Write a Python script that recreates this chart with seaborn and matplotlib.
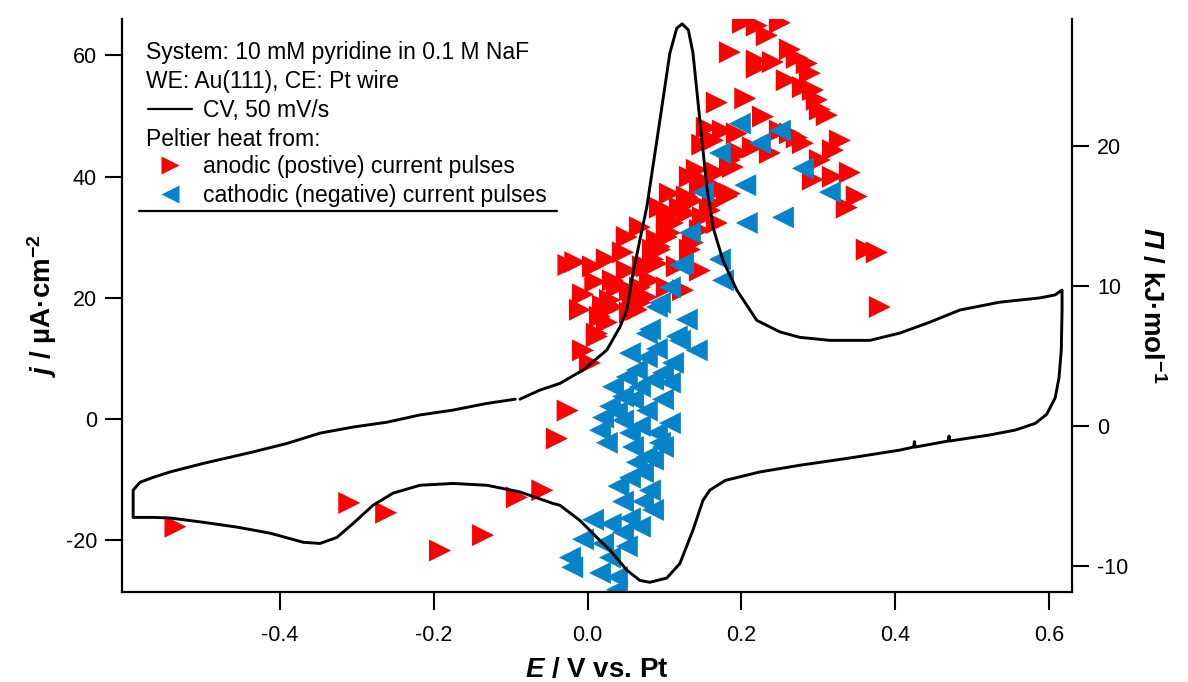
import numpy as np
import pandas as pd
import matplotlib
matplotlib.use("Agg")
import matplotlib.pyplot as plt
from matplotlib.lines import Line2D
import seaborn as sns

# ---------------- data ----------------
# CV trace (E / V vs. Pt, j / uA cm^-2), in acquisition order
cv_E = [-0.088, -0.062, -0.036, -0.006, 0.025, 0.042, 0.051, 0.059, 0.077, 0.094, 0.107,
        0.116, 0.123, 0.131, 0.137, 0.146, 0.155, 0.163, 0.176, 0.194, 0.220, 0.250,
        0.276, 0.315, 0.367, 0.406, 0.445, 0.484, 0.536, 0.588, 0.608, 0.617, 0.617,
        0.616, 0.613, 0.608, 0.597, 0.582, 0.556, 0.523, 0.471, 0.470, 0.469, 0.426,
        0.425, 0.424, 0.406, 0.341, 0.276, 0.224, 0.179, 0.159, 0.150, 0.137, 0.120,
        0.103, 0.081, 0.068, 0.051, 0.029, 0.012, -0.010, -0.036, -0.045, -0.088,
        -0.131, -0.175, -0.218, -0.253, -0.279, -0.305, -0.326, -0.348, -0.370,
        -0.413, -0.456, -0.500, -0.543, -0.565, -0.591, -0.591, -0.582, -0.565,
        -0.543, -0.500, -0.435, -0.391, -0.348, -0.305, -0.261, -0.218, -0.175,
        -0.131, -0.094]
cv_j = [3.3, 4.8, 5.9, 8.1, 11.4, 15.2, 18.0, 24.1, 35.0, 49.3, 60.4,
        64.5, 65.2, 64.2, 60.4, 49.3, 38.3, 31.7, 26.2, 21.3, 16.3, 14.4,
        13.5, 13.0, 13.0, 14.2, 16.0, 18.0, 19.3, 20.0, 20.5, 21.3, 18.0,
        11.4, 6.8, 3.5, 0.8, -0.7, -1.8, -2.6, -3.6, -2.8, -3.6, -4.6,
        -3.7, -4.6, -5.1, -6.4, -7.6, -8.7, -10.1, -11.7, -13.4, -18.3, -23.8,
        -26.2, -26.9, -26.6, -24.9, -21.6, -19.5, -16.7, -14.2, -13.9, -12.0,
        -10.9, -10.6, -10.9, -12.2, -14.2, -17.2, -19.5, -20.5, -20.3,
        -18.8, -17.8, -17.0, -16.3, -16.2, -16.2, -11.7, -10.4, -9.6,
        -8.7, -7.3, -5.4, -4.0, -2.3, -1.3, -0.5, 0.7, 1.5,
        2.6, 3.3]

# Peltier heat (E / V vs. Pt, Pi / kJ mol^-1) from anodic (positive) current pulses
anodic_E = [0.202, 0.220, 0.250, 0.233, 0.185, 0.220, 0.241, 0.263, 0.272, 0.285, 0.289,
            0.220, 0.259, 0.280, 0.293, 0.298, 0.302, 0.311, 0.168, 0.205, 0.228, 0.155,
            0.194, 0.149, 0.250, 0.272, 0.280, 0.328, 0.319, 0.302, 0.293, 0.319, 0.341,
            0.350, 0.337, 0.363, 0.376, 0.380, 0.185, 0.198, 0.215, 0.237, 0.263, 0.168,
            0.155, 0.142, 0.172, 0.133, 0.163, 0.176, 0.146, 0.137, 0.129, 0.111, 0.107,
            0.094, 0.107, 0.103, 0.094, 0.085, 0.077, 0.068, 0.090, 0.051, 0.068, 0.007,
            0.025, 0.033, 0.055, 0.046, 0.038, 0.020, 0.016, 0.012, 0.059, 0.064, 0.081,
            0.090, 0.094, 0.107, 0.103, 0.120, 0.129, 0.150, 0.163, 0.181, 0.168, 0.137,
            0.116, 0.103, 0.077, 0.055, 0.029, 0.072, 0.085, 0.051, -0.006, 0.003, 0.012,
            0.025, 0.033, 0.068, -0.025, -0.016, -0.010, 0.010, -0.006, 0.189, 0.185,
            0.159, 0.146, 0.133, 0.124, 0.146,
            -0.536, -0.310, -0.262, -0.192, -0.136, -0.092, -0.059, -0.040, -0.026]
anodic_P = [28.8, 28.6, 28.8, 27.9, 26.7, 26.1, 26.0, 26.9, 26.3, 25.9, 25.2,
            25.6, 24.7, 24.2, 24.0, 23.3, 22.6, 22.2, 23.1, 23.4, 22.1, 21.3,
            20.9, 20.1, 21.1, 20.6, 20.2, 20.4, 19.7, 19.0, 17.6, 17.8, 18.1,
            16.4, 15.6, 12.6, 12.4, 8.5, 19.0, 19.5, 19.9, 19.5, 20.9, 18.1,
            17.4, 18.3, 16.9, 17.8, 20.4, 21.1, 17.1, 16.1, 15.2, 14.5, 15.2,
            15.6, 16.6, 13.5, 12.6, 11.9, 11.4, 9.9, 13.3, 13.5, 14.2, 11.4,
            11.9, 10.4, 9.7, 12.4, 9.9, 8.6, 7.8, 6.6, 9.0, 8.3, 10.4,
            11.6, 12.8, 13.8, 14.9, 15.6, 16.4, 14.9, 15.9, 16.4, 14.5, 13.1,
            11.4, 9.9, 9.2, 8.1, 9.0, 11.4, 12.6, 11.1, 5.4, 4.5, 6.4,
            7.4, 8.5, 8.8, 11.5, 11.7, 8.3, 10.3, 9.4, 18.5, 16.6,
            15.4, 14.0, 12.6, 9.7, 11.1,
            -7.2, -5.5, -6.2, -8.9, -7.8, -5.1, -4.6, -0.9, 1.1]

# Peltier heat from cathodic (negative) current pulses
cathodic_E = [0.198, 0.250, 0.280, 0.315, 0.205, 0.150, 0.254, 0.207, 0.133, 0.172, 0.176,
              0.124, 0.172, 0.224, 0.120, 0.107, 0.094, 0.129, 0.081, 0.116, 0.090, 0.077,
              0.120, 0.142, 0.055, 0.077, 0.111, 0.098, 0.051, 0.033, 0.068, 0.107, 0.046,
              0.029, 0.059, 0.098, 0.077, 0.020, 0.046, 0.107, 0.016, 0.055, 0.090, 0.025,
              0.094, 0.098, 0.077, 0.064, 0.085, 0.055, 0.081, 0.046, 0.072, 0.007, 0.055,
              0.068, 0.046, -0.006, 0.020, 0.051, -0.023, 0.029, 0.016, 0.038, 0.038,
              0.064, 0.085, 0.038, 0.068, 0.090, 0.059, 0.072, 0.040, 0.085, 0.030, -0.020]
cathodic_P = [21.6, 21.1, 18.4, 16.7, 17.2, 16.7, 14.9, 14.5, 13.8, 11.9, 10.4,
              11.6, 19.5, 20.2, 11.5, 9.9, 8.8, 7.6, 6.9, 6.4, 8.5, 6.6,
              6.1, 5.4, 5.2, 4.9, 4.5, 3.8, 3.5, 2.8, 2.8, 3.1, 2.1,
              1.4, 1.9, 1.9, 1.1, 0.6, 0.4, 0.2, -0.3, -0.5, -0.5, -1.2,
              -1.2, -1.5, -2.2, -2.6, -2.4, -3.7, -4.6, -5.4, -5.4, -6.7, -6.6,
              -7.2, -7.6, -8.1, -8.4, -8.6, -9.4, -9.4, -10.5, -10.8, -11.7,
              4.0, 3.3, 1.0, 0.0, 5.5, -1.5, -3.3, -4.3, -6.0, -7.0, -10.1]

x_ticks = [-0.4, -0.2, 0.0, 0.2, 0.4, 0.6]
j_ticks = [-20, 0, 20, 40, 60]
P_ticks = [-10, 0, 10, 20]

legend_lines = ["System: 10 mM pyridine in 0.1 M NaF", "WE: Au(111), CE: Pt wire",
                "CV, 50 mV/s", "Peltier heat from:",
                "anodic (postive) current pulses", "cathodic (negative) current pulses"]

RED = "#FF0000"
BLUE = "#0784C9"

# ---------------- style ----------------
sns.set_style("white")
plt.rcParams['font.family'] = ['Liberation Sans', 'DejaVu Sans']
plt.rcParams['axes.unicode_minus'] = False
plt.rcParams['text.color'] = 'black'
plt.rcParams['axes.labelcolor'] = 'black'
plt.rcParams['xtick.color'] = 'black'
plt.rcParams['ytick.color'] = 'black'
plt.rcParams['mathtext.fontset'] = 'custom'
plt.rcParams['mathtext.rm'] = 'Liberation Sans'
plt.rcParams['mathtext.it'] = 'Liberation Sans:italic'
plt.rcParams['mathtext.bf'] = 'Liberation Sans:bold'
plt.rcParams['mathtext.bfit'] = 'Liberation Sans:italic:bold'

fig, ax = plt.subplots(figsize=(11.88, 6.82), dpi=100)
fig.subplots_adjust(left=0.1027, right=0.9024, bottom=0.1320, top=0.9721)
ax2 = ax.twinx()

cv_df = pd.DataFrame({"E": cv_E, "j": cv_j})
an_df = pd.DataFrame({"E": anodic_E, "P": anodic_P})
ca_df = pd.DataFrame({"E": cathodic_E, "P": cathodic_P})

sns.scatterplot(data=an_df, x="E", y="P", marker=">", s=250, color=RED,
                linewidth=0, edgecolor="none", ax=ax2, legend=False, zorder=2)
sns.scatterplot(data=ca_df, x="E", y="P", marker="<", s=250, color=BLUE,
                linewidth=0, edgecolor="none", ax=ax2, legend=False, zorder=3)
sns.lineplot(data=cv_df, x="E", y="j", sort=False, estimator=None, color="black",
             linewidth=2.1, ax=ax)

ax.set_zorder(ax2.get_zorder() + 1)
ax.patch.set_visible(False)

ax.set_xlim(-0.6055, 0.630)
ax.set_ylim(-28.5, 66.0)
ax2.set_ylim(-11.86, 29.07)
ax.set_xticks(x_ticks)
ax.set_xticklabels([f"{v:.1f}" for v in x_ticks])
ax.set_yticks(j_ticks)
ax2.set_yticks(P_ticks)

for a in (ax, ax2):
    for s in a.spines.values():
        s.set_linewidth(1.6)
        s.set_color("black")
    a.spines['top'].set_visible(False)
ax.spines['right'].set_visible(False)
ax2.spines['left'].set_visible(False)
ax2.spines['bottom'].set_visible(False)

ax.tick_params(axis='y', direction='out', length=12, width=1.5, labelsize=15.5,
               pad=6, colors="black", left=True)
ax.tick_params(axis='x', direction='out', length=13, width=1.5, labelsize=15.5,
               pad=11, colors="black", bottom=True)
ax2.tick_params(axis='y', direction='out', length=12, width=1.5, labelsize=15.5,
                pad=6, colors="black", right=True)

ax.set_xlabel(r"$\mathbfit{E}$ / V vs. Pt", fontsize=20, fontweight='bold', labelpad=8)
ax.set_ylabel(r"$\mathbfit{j}$ / µA·cm$^{\mathbf{-2}}$", fontsize=20, fontweight='bold', labelpad=5)
ax2.set_ylabel(r"$\mathbfit{\Pi}$ / kJ·mol$^{\mathbf{-1}}$", fontsize=20, fontweight='bold',
               rotation=270, va='bottom', labelpad=6)

# ---------------- legend ----------------
handles = [Line2D([], [], color="black", lw=1.6),
           Line2D([], [], alpha=0),
           Line2D([], [], ls="none", marker=">", ms=13, color=RED, mec="none"),
           Line2D([], [], ls="none", marker="<", ms=13, color=BLUE, mec="none")]
labels = [legend_lines[2], " ", legend_lines[4], legend_lines[5]]
leg = ax.legend(handles, labels, loc="upper left", bbox_to_anchor=(0.0274, 0.8607),
                borderaxespad=0, borderpad=0, frameon=False, fontsize=16.5,
                handlelength=1.9, handletextpad=0.48, labelspacing=0.23)
tx = 0.0253
ax.text(tx, 0.941, legend_lines[0], transform=ax.transAxes, fontsize=16.5, va="center", ha="left")
ax.text(tx, 0.891, legend_lines[1], transform=ax.transAxes, fontsize=16.5, va="center", ha="left")
ax.text(tx, 0.790, legend_lines[3], transform=ax.transAxes, fontsize=16.5, va="center", ha="left")
ax.add_line(Line2D([0.0179, 0.458], [0.665, 0.665], transform=ax.transAxes,
                   color="black", lw=1.6, clip_on=False))

fig.savefig("out.png", dpi=100, facecolor="white")
